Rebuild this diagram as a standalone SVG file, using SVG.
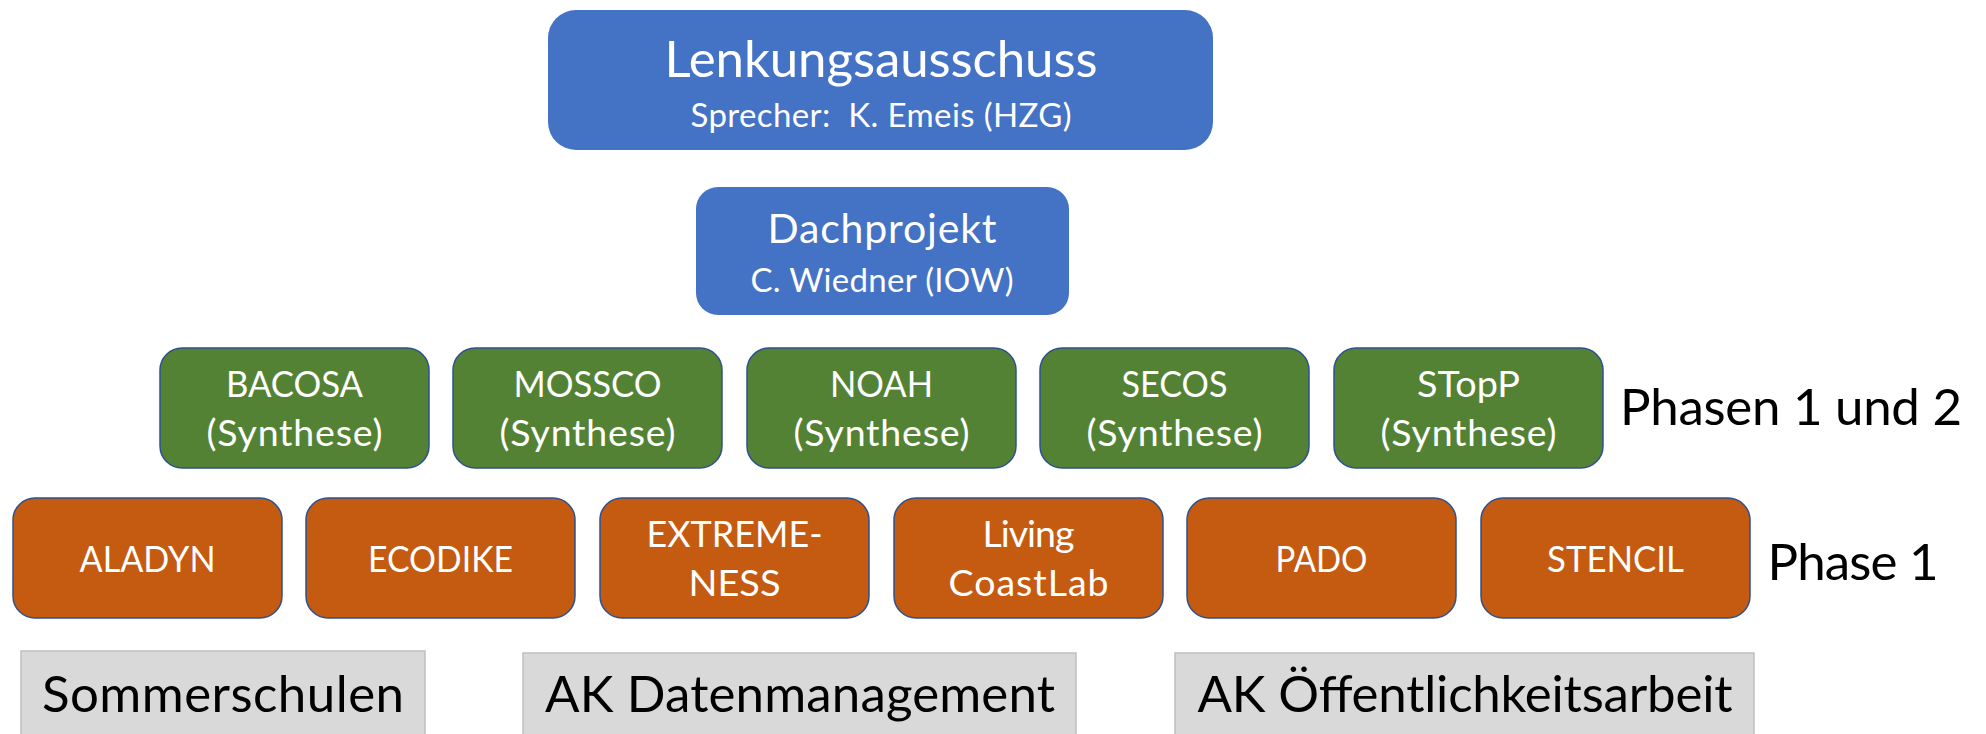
<svg xmlns="http://www.w3.org/2000/svg" width="1986" height="734" viewBox="0 0 1986 734">
  <style>
    text { font-family: Lato, "Open Sans", "Noto Sans", sans-serif; text-anchor: middle; }
    .blue { fill: #4472C4; }
    .green { fill: #548235; stroke: #2F528F; stroke-width: 1.5; }
    .orange { fill: #C55A11; stroke: #2F528F; stroke-width: 1.5; }
    .grey { fill: #D9D9D9; stroke: #BFBFBF; stroke-width: 1.5; }
    .w { fill: #FFFFFF; }
    .k { fill: #000000; }
    .t1 { font-size: 51px; }
    .t2 { font-size: 33px; }
    .t3 { font-size: 41px; }
    .t4 { font-size: 33px; }
    .box { font-size: 37.5px; }
    .big { font-size: 51px; }
  </style>

  <!-- steering committee -->
  <g id="lenkungsausschuss">
    <rect class="blue" x="548" y="10" width="665" height="140" rx="28"/>
    <text class="w t1" x="881" y="77" textLength="433">Lenkungsausschuss</text>
    <text class="w t2" x="881" y="127" textLength="381">Sprecher:&#160; K. Emeis (HZG)</text>
  </g>

  <!-- umbrella project -->
  <g id="dachprojekt">
    <rect class="blue" x="696" y="187" width="373" height="128" rx="22"/>
    <text class="w t3" x="882" y="243" textLength="229">Dachprojekt</text>
    <text class="w t4" x="882" y="292" textLength="263">C. Wiedner (IOW)</text>
  </g>

  <!-- synthesis projects, phases 1 and 2 -->
  <g id="bacosa">
    <rect class="green" x="160" y="348" width="269" height="120" rx="22"/>
    <text class="w box" x="294.5" y="397" textLength="137" lengthAdjust="spacingAndGlyphs">BACOSA</text>
    <text class="w box" x="294.5" y="446" textLength="176">(Synthese)</text>
  </g>
  <g id="mossco">
    <rect class="green" x="453" y="348" width="269" height="120" rx="22"/>
    <text class="w box" x="587.5" y="397" textLength="148" lengthAdjust="spacingAndGlyphs">MOSSCO</text>
    <text class="w box" x="587.5" y="446" textLength="176">(Synthese)</text>
  </g>
  <g id="noah">
    <rect class="green" x="747" y="348" width="269" height="120" rx="22"/>
    <text class="w box" x="881.5" y="397" textLength="103" lengthAdjust="spacingAndGlyphs">NOAH</text>
    <text class="w box" x="881.5" y="446" textLength="176">(Synthese)</text>
  </g>
  <g id="secos">
    <rect class="green" x="1040" y="348" width="269" height="120" rx="22"/>
    <text class="w box" x="1174.5" y="397" textLength="106" lengthAdjust="spacingAndGlyphs">SECOS</text>
    <text class="w box" x="1174.5" y="446" textLength="176">(Synthese)</text>
  </g>
  <g id="stopp">
    <rect class="green" x="1334" y="348" width="269" height="120" rx="22"/>
    <text class="w box" x="1468.5" y="397" textLength="103" lengthAdjust="spacingAndGlyphs">STopP</text>
    <text class="w box" x="1468.5" y="446" textLength="176">(Synthese)</text>
  </g>
  <text class="k big" x="1791" y="425" textLength="342">Phasen 1 und 2</text>

  <!-- phase 1 projects -->
  <g id="aladyn">
    <rect class="orange" x="13" y="498" width="269" height="120" rx="22"/>
    <text class="w box" x="147.5" y="572" textLength="136" lengthAdjust="spacingAndGlyphs">ALADYN</text>
  </g>
  <g id="ecodike">
    <rect class="orange" x="306" y="498" width="269" height="120" rx="22"/>
    <text class="w box" x="440.5" y="572" textLength="145" lengthAdjust="spacingAndGlyphs">ECODIKE</text>
  </g>
  <g id="extremeness">
    <rect class="orange" x="600" y="498" width="269" height="120" rx="22"/>
    <text class="w box" x="734.5" y="547" textLength="176" lengthAdjust="spacingAndGlyphs">EXTREME-</text>
    <text class="w box" x="734.5" y="596" textLength="92" lengthAdjust="spacingAndGlyphs">NESS</text>
  </g>
  <g id="livingcoastlab">
    <rect class="orange" x="894" y="498" width="269" height="120" rx="22"/>
    <text class="w box" x="1028.5" y="547" textLength="92">Living</text>
    <text class="w box" x="1028.5" y="596" textLength="160">CoastLab</text>
  </g>
  <g id="pado">
    <rect class="orange" x="1187" y="498" width="269" height="120" rx="22"/>
    <text class="w box" x="1321.5" y="572" textLength="92" lengthAdjust="spacingAndGlyphs">PADO</text>
  </g>
  <g id="stencil">
    <rect class="orange" x="1481" y="498" width="269" height="120" rx="22"/>
    <text class="w box" x="1615.5" y="572" textLength="137" lengthAdjust="spacingAndGlyphs">STENCIL</text>
  </g>
  <text class="k big" x="1853" y="580" textLength="171">Phase 1</text>

  <!-- working groups -->
  <g id="sommerschulen">
    <rect class="grey" x="21" y="651" width="404" height="100"/>
    <text class="k big" x="223" y="712" textLength="362">Sommerschulen</text>
  </g>
  <g id="ak-datenmanagement">
    <rect class="grey" x="523" y="653" width="553" height="100"/>
    <text class="k big" x="800" y="712" textLength="510">AK Datenmanagement</text>
  </g>
  <g id="ak-oeffentlichkeitsarbeit">
    <rect class="grey" x="1175" y="653" width="579" height="100"/>
    <text class="k big" x="1465" y="712" textLength="535">AK Öffentlichkeitsarbeit</text>
  </g>
</svg>
